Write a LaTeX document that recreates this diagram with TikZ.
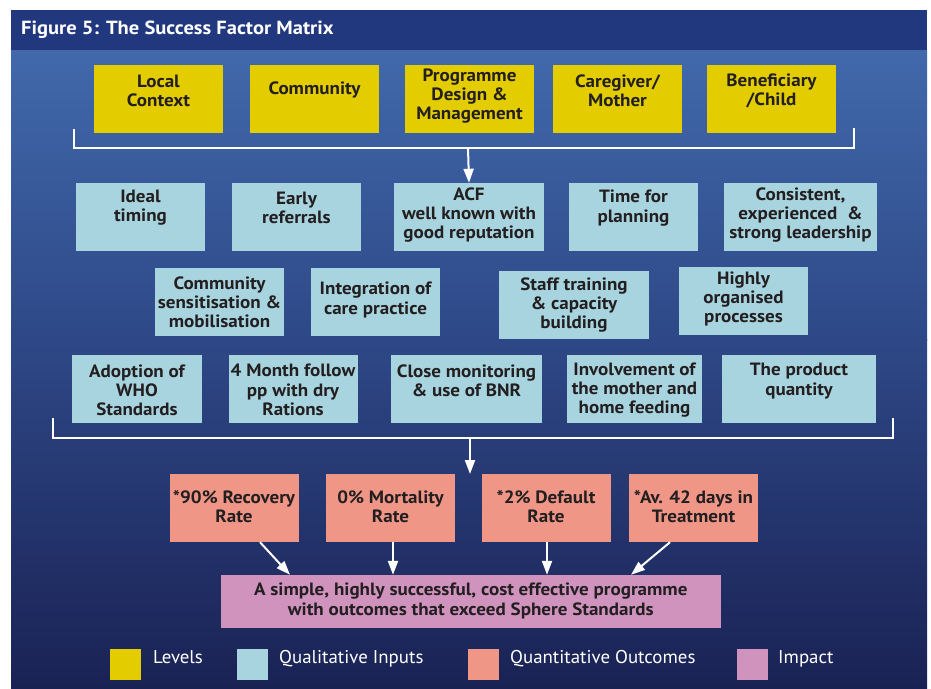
\documentclass[tikz,border=0pt]{standalone}
\usepackage{fontspec}
\setmainfont{PT Sans}[FakeStretch=1.07]
\newfontfamily\titlefont{PT Sans}[FakeStretch=1.08]
\newfontfamily\legfont{PT Sans}[FakeStretch=1.02]
\usetikzlibrary{arrows.meta,calc}
\definecolor{ctitle}{HTML}{21387F}
\definecolor{ctop}{HTML}{4169AB}
\definecolor{cmid}{HTML}{2E4887}
\definecolor{cbot}{HTML}{1A2254}
\definecolor{cyel}{HTML}{E3CD00}
\definecolor{cblue}{HTML}{A8D4DF}
\definecolor{csal}{HTML}{EF9687}
\definecolor{cpink}{HTML}{CF93BE}
\definecolor{ctext}{HTML}{231F20}
\tikzset{
  box/.style={inner sep=0pt, minimum height=68pt},
  lev/.style={box, fill=cyel, minimum width=129pt},
  qual/.style={box, fill=cblue},
  outc/.style={box, fill=csal, minimum width=129pt},
  impbox/.style={inner sep=0pt, fill=cpink, minimum width=499.5pt, minimum height=53pt},
  txt/.style={align=center, text=ctext, inner sep=0pt, font=\bfseries\fontsize{17.8}{19.2}\selectfont},
  swatch/.style={inner sep=0pt, minimum width=31pt, minimum height=31pt},
  legtxt/.style={anchor=base west, text=white, inner sep=0pt, font=\legfont\fontsize{18.5}{20}\selectfont},
  brk/.style={draw=white, line width=2pt},
  arr/.style={draw=white, line width=2pt, -{Triangle[length=14pt,width=10pt]}},
}
\begin{document}
\begin{tikzpicture}[x=1pt,y=-1pt]
\useasboundingbox (0,0) rectangle (931,688);
\fill[white] (0,0) rectangle (931,688);
% background
\shade[top color=ctop, bottom color=cmid, shading=axis] (11,50) rectangle (927,340);
\shade[top color=cmid, bottom color=cbot, shading=axis] (11,339.5) rectangle (927,688);
\fill[ctitle] (11,10) rectangle (927,50);
\node (title) [anchor=base west, text=white, inner sep=0pt, font=\titlefont\bfseries\fontsize{19}{22}\selectfont] at (21,34) {Figure 5: The Success Factor Matrix};

% Levels
\node (l1) [lev] at (158.5,99) {};
\node (l2) [lev] at (314.5,99) {};
\node (l3) [lev] at (469.5,99) {};
\node (l4) [lev] at (617.5,99) {};
\node (l5) [lev] at (771.5,99) {};
\node (l1t) [txt] at (158.5,91) {Local\\Context};
\node (l2t) [txt] at (314.5,90) {Community};
\node (l3t) [txt] at (469.5,96) {Programme\\Design \&\\Management};
\node (l4t) [txt] at (617.5,91) {Caregiver/\\Mother};
\node (l5t) [txt] at (771.5,91) {Beneficiary\\/Child};

% bracket 1
\coordinate (b1l) at (74,129);
\coordinate (b1r) at (854,128);
\coordinate (b1m) at (468,148);
\draw[brk] (b1l) |- (b1m) -| (b1r);

% Row 2
\node (q1) [qual, minimum width=129pt] at (140.5,217) {};
\node (q2) [qual, minimum width=129pt] at (296.5,217) {};
\node (q3) [qual, minimum width=150pt] at (469,217) {};
\node (q4) [qual, minimum width=129pt] at (633.5,217) {};
\node (q5) [qual, minimum width=153pt] at (800.5,217) {};
\node (q1t) [txt] at (140.5,208) {Ideal\\timing};
\node (q2t) [txt] at (296.5,208) {Early\\referrals};
\node (q3t) [txt] at (469,215) {ACF\\well known with\\good reputation};
\node (q4t) [txt] at (633.5,208) {Time for\\planning};
\node (q5t) [txt] at (800.5,215) {Consistent,\\experienced\ \ \&\\strong leadership};

\draw[arr] (b1m) -- (q3.north);

% Row 3
\node (q6) [qual, minimum width=129pt] at (219.5,302) {};
\node (q7) [qual, minimum width=129pt] at (375.5,302) {};
\node (q8) [qual, minimum width=150pt] at (574,305) {};
\node (q9) [qual, minimum width=129pt] at (743.5,301) {};
\node (q6t) [txt] at (219.5,302) {Community\\sensitisation \&\\mobilisation};
\node (q7t) [txt] at (375.5,300) {Integration of\\care practice};
\node (q8t) [txt] at (574,305) {Staff training\\\& capacity\\building};
\node (q9t) [txt] at (743.5,299) {Highly\\organised\\processes};

% Row 4
\node (r1) [qual, minimum width=130pt] at (137,389) {};
\node (r2) [qual, minimum width=129pt] at (293,389) {};
\node (r3) [qual, minimum width=151pt] at (466.5,389) {};
\node (r4) [qual, minimum width=135pt] at (634.5,389) {};
\node (r5) [qual, minimum width=154pt] at (799,389) {};
\node (r1t) [txt] at (137,390) {Adoption of\\WHO\\Standards};
\node (r2t) [txt] at (293,390) {4 Month follow\\pp with dry\\Rations};
\node (r3t) [txt] at (466.5,381) {Close monitoring\\\& use of BNR};
\node (r4t) [txt] at (634.5,390) {Involvement of\\the mother and\\home feeding};
\node (r5t) [txt] at (799,381) {The product\\quantity};

% bracket 2
\coordinate (b2l) at (52.5,418);
\coordinate (b2r) at (892.5,418);
\coordinate (b2m) at (470,438);
\coordinate (b2e) at (470,474);
\draw[brk] (b2l) |- (b2m) -| (b2r);
\draw[arr] (b2m) -- (b2e);

% Outcomes
\node (o1) [outc] at (234,508) {};
\node (o2) [outc] at (390.5,508) {};
\node (o3) [outc] at (546,508) {};
\node (o4) [outc] at (693.5,508) {};
\node (o1t) [txt] at (234,507) {*90\% Recovery\\Rate};
\node (o2t) [txt] at (390.5,507) {0\% Mortality\\Rate};
\node (o3t) [txt] at (546,507) {*2\% Default\\Rate};
\node (o4t) [txt] at (693.5,507) {*Av. 42 days in\\Treatment};

% Impact
\node (imp) [impbox] at (470.75,601.5) {};
\node (impt) [txt] at (470.75,601) {A simple, highly successful, cost effective programme\\with outcomes that exceed Sphere Standards};

\draw[arr] ($(o1.south)+(26,0)$) -- ($(imp.north)+(-180.75,0)$);
\draw[arr] ($(o2.south)+(2.5,0)$) -- ($(imp.north)+(-77.75,0)$);
\draw[arr] ($(o3.south)+(1,0)$) -- ($(imp.north)+(76.25,0)$);
\draw[arr] ($(o4.south)+(-23.5,0)$) -- ($(imp.north)+(160.25,0)$);

% Legend
\node (s1) [swatch, fill=cyel] at (125.75,664.5) {};
\node (s2) [swatch, fill=cblue] at (252.5,664.5) {};
\node (s3) [swatch, fill=csal] at (483.5,664.5) {};
\node (s4) [swatch, fill=cpink] at (752.5,664.5) {};
\node (s1t) [legtxt] at (153,663) {Levels};
\node (s2t) [legtxt] at (279,663) {Qualitative Inputs};
\node (s3t) [legtxt] at (510,663) {Quantitative Outcomes};
\node (s4t) [legtxt] at (778,663) {Impact};
\end{tikzpicture}
\end{document}
